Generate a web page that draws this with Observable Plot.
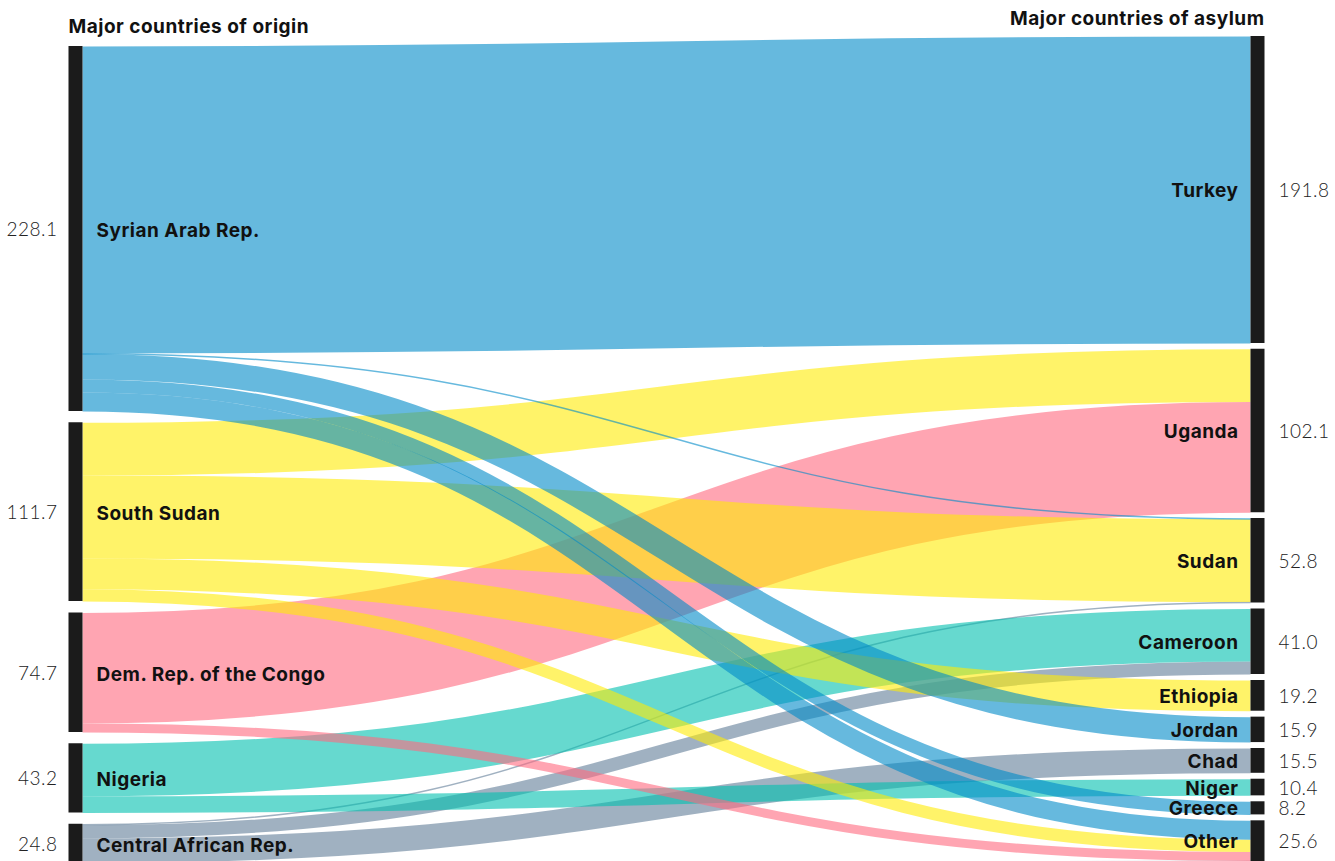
<!DOCTYPE html>
<html>
<head>
<meta charset="utf-8">
<script src="https://cdn.jsdelivr.net/npm/d3@7"></script>
<script src="https://cdn.jsdelivr.net/npm/@observablehq/plot@0.6"></script>
<style>
  html, body { margin: 0; padding: 0; background: #ffffff; overflow: hidden; }
  #chart svg { display: block; }
  #chart text { letter-spacing: 0.5px; }
</style>
</head>
<body>
<div id="chart"></div>
<script>
// ---------- data ----------
const origins = ["Syrian Arab Rep.", "South Sudan", "Dem. Rep. of the Congo", "Nigeria", "Central African Rep."];
const originTotals = [228.1, 111.7, 74.7, 43.2, 24.8];
const originColors = ["#008ac8", "#ffeb05", "#ff697f", "#00c0af", "#617d98"];

const asylums = ["Turkey", "Uganda", "Sudan", "Cameroon", "Ethiopia", "Jordan", "Chad", "Niger", "Greece", "Other"];
const asylumTotals = [191.8, 102.1, 52.8, 41.0, 19.2, 15.9, 15.5, 10.4, 8.2, 25.6];

const flowSource = ["Syrian Arab Rep.", "Syrian Arab Rep.", "Syrian Arab Rep.", "Syrian Arab Rep.", "Syrian Arab Rep.",
  "South Sudan", "South Sudan", "South Sudan", "South Sudan",
  "Dem. Rep. of the Congo", "Dem. Rep. of the Congo",
  "Nigeria", "Nigeria",
  "Central African Rep.", "Central African Rep.", "Central African Rep.", "Central African Rep."];
const flowTarget = ["Turkey", "Sudan", "Jordan", "Greece", "Other",
  "Uganda", "Sudan", "Ethiopia", "Other",
  "Uganda", "Other",
  "Cameroon", "Niger",
  "Sudan", "Cameroon", "Chad", "Other"];
const flowValue = [191.8, 0.4, 15.9, 8.2, 11.8,
  33.0, 51.8, 19.2, 7.7,
  69.1, 5.6,
  32.8, 10.4,
  0.6, 8.2, 15.5, 0.5];

const titleOrigin = "Major countries of origin";
const titleAsylum = "Major countries of asylum";

// ---------- layout ----------
const W = 1335, H = 861;
const pxPerUnit = 1.6;
const D = H / pxPerUnit;           // y domain span in data units
const leftTop = 28.75, leftGap = 7.1;
const rightTop = 22.5, rightGap = 3.7;

const leftNodes = [];
{
  let y = leftTop;
  origins.forEach((name, i) => {
    leftNodes.push({name, value: originTotals[i], col: 0, y0: y, y1: y + originTotals[i], color: originColors[i]});
    y += originTotals[i] + leftGap;
  });
}
const rightNodes = [];
{
  let y = rightTop;
  asylums.forEach((name, i) => {
    rightNodes.push({name, value: asylumTotals[i], col: 1, y0: y, y1: y + asylumTotals[i]});
    y += asylumTotals[i] + rightGap;
  });
}
const srcIdx = new Map(origins.map((n, i) => [n, i]));
const tgtIdx = new Map(asylums.map((n, i) => [n, i]));

const links = flowValue.map((v, i) => ({
  source: flowSource[i], target: flowTarget[i], value: v,
  si: srcIdx.get(flowSource[i]), ti: tgtIdx.get(flowTarget[i])
}));
origins.forEach((o, si) => {
  let y = leftNodes[si].y0;
  links.filter(l => l.si === si).sort((a, b) => a.ti - b.ti).forEach(l => {
    l.sy = y + l.value / 2; y += l.value;
  });
});
asylums.forEach((a, ti) => {
  let y = rightNodes[ti].y0;
  links.filter(l => l.ti === ti).sort((a, b) => a.si - b.si).forEach(l => {
    l.ty = y + l.value / 2; y += l.value;
  });
});
links.forEach(l => { l.color = originColors[l.si]; l.x1 = 0; l.x2 = 1; });
const drawLinks = links.slice().sort((a, b) => b.si - a.si || a.ti - b.ti);

const fmt = d3.format(".1f");
const labelFont = "Inter, 'Open Sans', sans-serif";
const valueFont = "Lato, 'Open Sans', sans-serif";

const plot = Plot.plot({
  width: W, height: H,
  marginTop: 0, marginBottom: 0, marginLeft: 82, marginRight: 85,
  x: {domain: [0, 1], axis: null},
  y: {domain: [0, D], range: [0, H], axis: null},
  style: {background: "#ffffff", overflow: "visible"},
  marks: [
    Plot.link(drawLinks, {
      x1: "x1", x2: "x2", y1: "sy", y2: "ty",
      curve: "bump-x",
      stroke: "color",
      strokeOpacity: 0.6,
      strokeWidth: d => Math.max(1.5, d.value * pxPerUnit)
    }),
    Plot.ruleX(leftNodes, {x: "col", y1: "y0", y2: "y1", stroke: "#1b1b1b", strokeWidth: 14, dx: -7}),
    Plot.ruleX(rightNodes, {x: "col", y1: "y0", y2: "y1", stroke: "#1b1b1b", strokeWidth: 14, dx: 7}),
    Plot.text(leftNodes, {
      x: "col", y: d => (d.y0 + d.y1) / 2, text: "name",
      textAnchor: "start", dx: 14, dy: 2, fontFamily: labelFont, fontWeight: 700, fontSize: 19, fill: "#111111"
    }),
    Plot.text(leftNodes, {
      x: "col", y: d => (d.y0 + d.y1) / 2, text: d => fmt(d.value),
      textAnchor: "end", dx: -25, dy: 1, fontFamily: valueFont, fontWeight: 300, fontSize: 19, fill: "#222222"
    }),
    Plot.text(rightNodes, {
      x: "col", y: d => (d.y0 + d.y1) / 2, text: "name",
      textAnchor: "end", dx: -12, dy: 1, fontFamily: labelFont, fontWeight: 700, fontSize: 19, fill: "#111111"
    }),
    Plot.text(rightNodes, {
      x: "col", y: d => (d.y0 + d.y1) / 2, text: d => fmt(d.value),
      textAnchor: "start", dx: 28, dy: 1, fontFamily: valueFont, fontWeight: 300, fontSize: 19, fill: "#222222"
    }),
    Plot.text([{col: 0, y: leftNodes[0].y0, t: titleOrigin}], {
      x: "col", y: "y", text: "t", textAnchor: "start", dx: -14, dy: -20,
      fontFamily: labelFont, fontWeight: 700, fontSize: 19, fill: "#111111"
    }),
    Plot.text([{col: 1, y: rightNodes[0].y0, t: titleAsylum}], {
      x: "col", y: "y", text: "t", textAnchor: "end", dx: 14, dy: -18,
      fontFamily: labelFont, fontWeight: 700, fontSize: 19, fill: "#111111"
    })
  ]
});
document.getElementById("chart").appendChild(plot);
</script>
</body>
</html>
